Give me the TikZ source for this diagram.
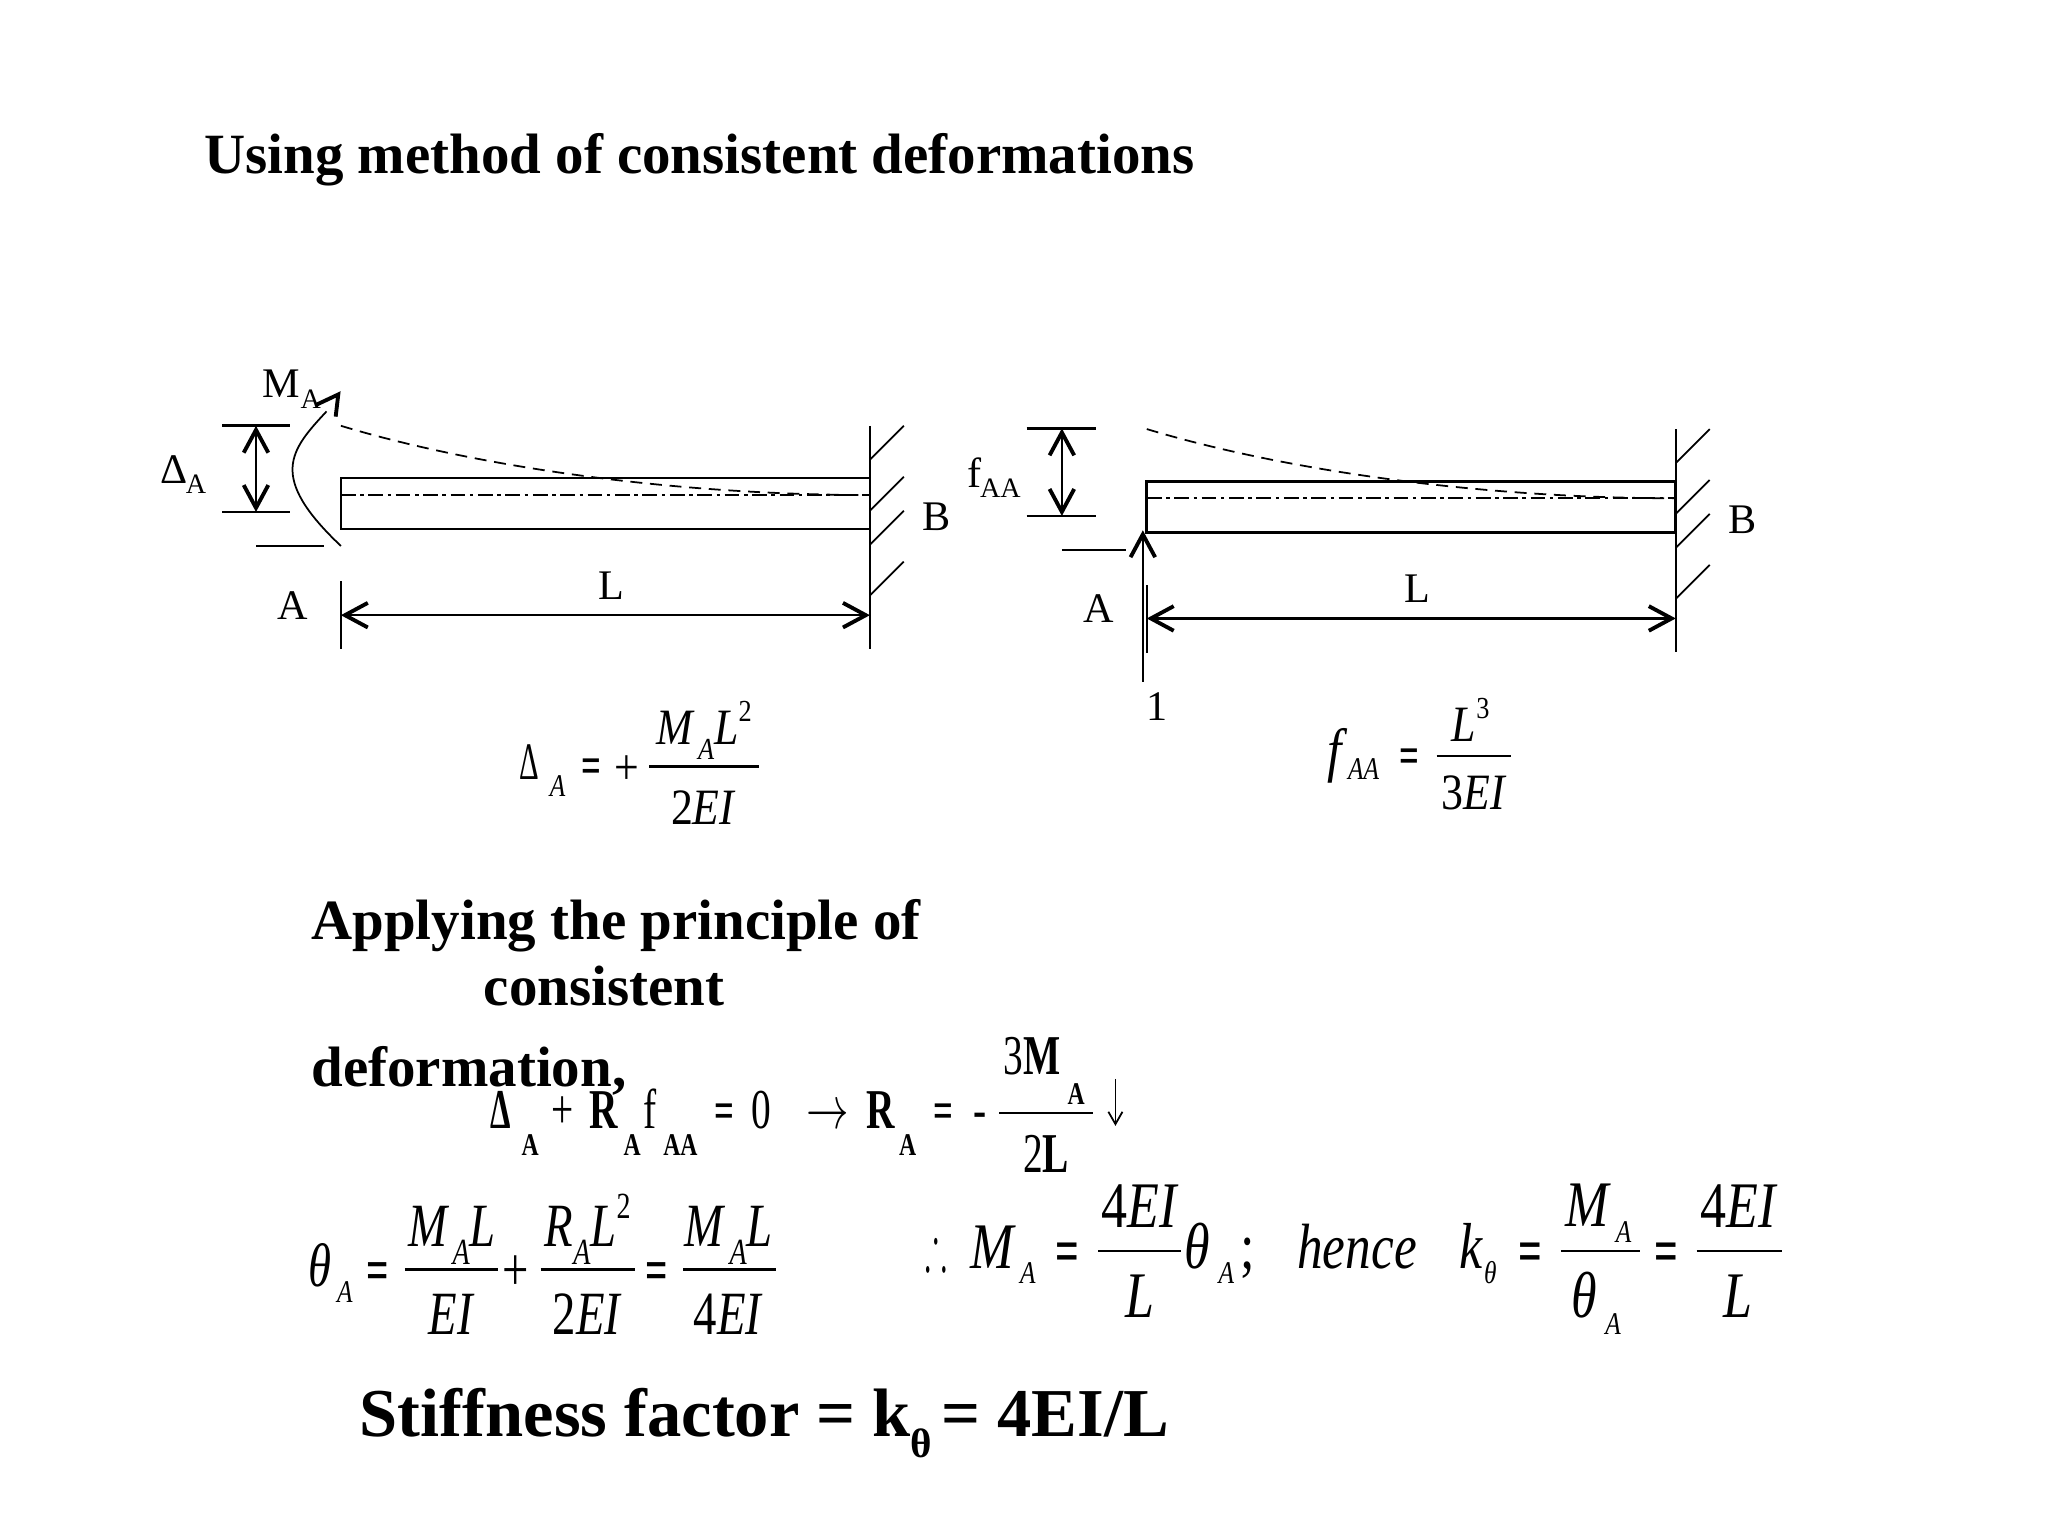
\documentclass[tikz,border=0pt]{standalone}
\usepackage{amsmath, amssymb}
\usepackage{fontspec}
\setmainfont{Liberation Serif}
\usetikzlibrary{calc,positioning,arrows.meta}
\newcommand{\fs}[1]{\fontsize{#1}{#1}\selectfont}
\newcommand{\lo}[1]{\raisebox{-.3em}{\scalebox{.6}{#1}}}
\newcommand{\hi}[1]{\raisebox{.45em}{\scalebox{.6}{#1}}}
\tikzset{
  barb/.tip={Straight Barb[length=6.5pt, width=7pt, line width=1.1pt]},
  smallbarb/.tip={Straight Barb[length=3.5pt, width=4pt, line width=.5pt]},
  lbl/.style={font=\fs{12}, inner sep=0pt, anchor=base},
  sublbl/.style={font=\fs{8}, inner sep=0pt, anchor=base},
  headtxt/.style={font=\bfseries\fs{16.2}, inner sep=0pt, anchor=base west},
  eqa/.style={font=\itshape\fs{14.5}, xscale=.86, inner sep=0pt, anchor=base},
  eqb/.style={font=\fs{16}, xscale=.7, inner sep=0pt, anchor=base},
  eqc/.style={font=\itshape\fs{17.5}, xscale=.76, inner sep=0pt, anchor=base},
  eqd/.style={font=\itshape\fs{18.5}, xscale=.8, inner sep=0pt, anchor=base},
  eqsign/.style={font=\bfseries\fs{#1}, xscale=.66, inner sep=0pt, anchor=base},
  bigdelta/.style={font=\fs{#1}, xscale=.58, inner sep=0pt, anchor=base},
  smallA/.style={font=\itshape\fs{9}, xscale=.8, inner sep=0pt, anchor=base},
  boldA/.style={font=\bfseries\fs{9}, xscale=.75, inner sep=0pt, anchor=base},
  fracline/.style={line width=.7pt},
  beamline/.style={line width=.75pt},
  thinline/.style={line width=.5pt},
  shortline/.style={line width=.75pt},
}
\begin{document}
\begin{tikzpicture}[x=0.13061mm, y=-0.13061mm]
\useasboundingbox (0,0) rectangle (1568,1176);
\path (156,133) node[headtxt] (title) {Using method of consistent deformations};

% both beams
\foreach \sx/\sy/\n in {0/0/l, 617/2.5/r}{
\begin{scope}[shift={(\sx,\sy)}]
\coordinate (\n wt) at (666,326);
\coordinate (\n wb) at (666,497);
\coordinate (\n ds) at (261,326);
\coordinate (\n de) at (666,379);
\coordinate (\n ca) at (261,379);
\coordinate (\n la) at (261,471);
\coordinate (\n lb) at (666,471);
\draw[beamline] (261,366) rectangle (666,405);
\draw[thinline, dash pattern=on 4.2pt off 1.3pt on 1pt off 1.3pt] (\n ca) -- (\n de);
\draw[thinline, dash pattern=on 3.4pt off 2.2pt] (\n ds) .. controls (360,356) and (510,379) .. (\n de);
\draw[thinline] (\n wt) -- (\n wb);
\foreach \y in {352, 391, 417, 456}{\draw[thinline] (666,\y) -- (692,\y-26);}
\draw[beamline, {barb}-{barb}] (\n la) -- (\n lb);
\path (468,459) node[lbl] (\n L) {L};
\path (224,474) node[lbl] (\n A) {A};
\path (717,406) node[lbl] (\n B) {B};
\end{scope}
}
\draw[thinline] (261,445) -- (261,497);
\draw[thinline] (878,448) -- (878,500);

% left beam
\coordinate (mb) at (261,418);
\coordinate (mt) at (250,315);
\draw[thinline] (mb) .. controls (205,365) and (222,345) .. (mt);
\draw[line width=1.1pt] (242,310) -- (259,302) -- (257,319);
\path (215,304) node[lbl] (mlab) {M};
\path (238,313) node[sublbl] (mlabs) {A};
\draw[shortline] (170,326) -- (222,326);
\draw[shortline] (170,392) -- (222,392);
\draw[shortline] (196,418) -- (248,418);
\draw[thinline, {barb}-{barb}] (196,326) -- (196,392);
\path (133,370) node[lbl] (dlab) {Δ};
\path (150,378) node[sublbl] (dlabs) {A};

% right beam
\draw[shortline] (786,328) -- (839,328);
\draw[shortline] (786,395) -- (839,395);
\draw[shortline] (813,421) -- (862,421);
\draw[thinline, {barb}-{barb}] (813,328) -- (813,395);
\draw[thinline, -{barb}] (875,522) -- (875,406);
\path (746,373) node[lbl] (flab) {f};
\path (766,381) node[sublbl] (flabs) {AA};
\path (886,552) node[lbl] (one) {1};

% deflection formulas
\path (405,597) node[bigdelta=15] (da) {Δ};
\path (427,610) node[smallA] (das) {A};
\path (453,600) node[eqsign=15] (dae) {=};
\path (480,601) node[eqa] (dap) {\upshape +};
\draw[fracline] (497,587) -- (581,587);
\path (539,570) node[eqa] (dan) {M\kern.12em\lo{A}L\hi{\upshape 2}};
\path (538,631) node[eqa] (dad) {\upshape 2\itshape EI};

\path (1022,590) node[eqa, font=\itshape\fs{17}] (fa) {f};
\path (1044,597) node[smallA] (fas) {AA};
\path (1079,592) node[eqsign=15] (fae) {=};
\draw[fracline] (1100,579) -- (1157,579);
\path (1126,568) node[eqa] (fan) {L\hi{\upshape 3}};
\path (1128,620) node[eqa] (fad) {\upshape 3\itshape EI};

\path (238,719) node[headtxt] (app) {Applying the principle of};
\path (370,770) node[headtxt] (con) {consistent};
\path (238,832) node[headtxt] (def) {deformation,};

% reaction
\path (383,864) node[bigdelta=16] (ra) {\bfseries Δ};
\path (406,885) node[boldA] (ras) {A};
\path (431,864) node[eqb] (rp) {+};
\path (462,864) node[eqb] (rr) {\bfseries R};
\path (484,885) node[boldA] (rrs) {A};
\path (498,864) node[eqb] (rf) {f};
\path (521,885) node[boldA] (rfs) {AA};
\path (555,864) node[eqsign=15] (re) {=};
\path (583,864) node[eqb] (rz) {0};
\path (634,864) node[eqb] (rar) {$\rightarrow$};
\path (674,864) node[eqb] (rr2) {\bfseries R};
\path (695,885) node[boldA] (rr2s) {A};
\path (722,864) node[eqsign=15] (re2) {=};
\path (750,864) node[eqb] (rm) {-};
\draw[fracline] (765,852) -- (837,852);
\path (790,823) node[eqb] (rn) {3\textbf{M}};
\path (824,846) node[boldA] (rns) {A};
\path (801,898) node[eqb] (rd) {2\textbf{L}};
\coordinate (rdt) at (854,826);
\coordinate (rdb) at (854,862);
\draw[thinline, -{smallbarb}] (rdt) -- (rdb);

% rotation
\path (245,985) node[eqc] (t) {θ};
\path (264,997) node[smallA] (ts) {A};
\path (289,988) node[eqsign=17] (te) {=};
\draw[fracline] (310,972) -- (381,972);
\path (346,954) node[eqc] (t1n) {M\kern.12em\lo{A}L};
\path (345,1022) node[eqc] (t1d) {EI};
\path (395,988) node[eqc] (tp) {\upshape +};
\draw[fracline] (414,972) -- (486,972);
\path (450,954) node[eqc] (t2n) {R\lo{A}L\hi{\upshape 2}};
\path (449,1022) node[eqc] (t2d) {\upshape 2\itshape EI};
\path (503,988) node[eqsign=17] (te2) {=};
\draw[fracline] (523,972) -- (594,972);
\path (558,954) node[eqc] (t3n) {M\kern.12em\lo{A}L};
\path (557,1022) node[eqc] (t3d) {\upshape 4\itshape EI};

% stiffness
\path (717,971) node[eqd, xscale=.62] (m0) {$\therefore$};
\path (760,971) node[eqd] (m1) {M};
\path (787,983) node[smallA] (m1s) {A};
\path (817,974) node[eqsign=18] (me) {=};
\draw[fracline] (841,958) -- (904,958);
\path (872,940) node[eqd] (mn) {\upshape 4\itshape EI};
\path (873,1009) node[eqd] (md) {L};
\path (917,971) node[eqd] (mt1) {θ};
\path (939,983) node[smallA] (mt1s) {A};
\path (955,971) node[eqd] (msc) {\upshape ;};
\path (1039,971) node[eqd, font=\itshape\fs{18.2}] (hen) {hence};
\path (1126,971) node[eqd] (k) {k};
\path (1141,983) node[smallA] (ks) {θ};
\path (1172,974) node[eqsign=18] (ke) {=};
\draw[fracline] (1195,958) -- (1256,958);
\path (1215,939) node[eqd] (k1n) {M};
\path (1243,951) node[smallA] (k1ns) {A};
\path (1213,1009) node[eqd] (k1d) {θ};
\path (1235,1022) node[smallA] (k1ds) {A};
\path (1276,974) node[eqsign=18] (ke2) {=};
\draw[fracline] (1299,958) -- (1364,958);
\path (1331,940) node[eqd] (k2n) {\upshape 4\itshape EI};
\path (1331,1009) node[eqd] (k2d) {L};

\path (275,1100) node[headtxt, font=\bfseries\fs{19.5}] (stf) {Stiffness factor = k\lo{θ}\kern-.12em\ = 4EI/L};
\end{tikzpicture}
\end{document}
